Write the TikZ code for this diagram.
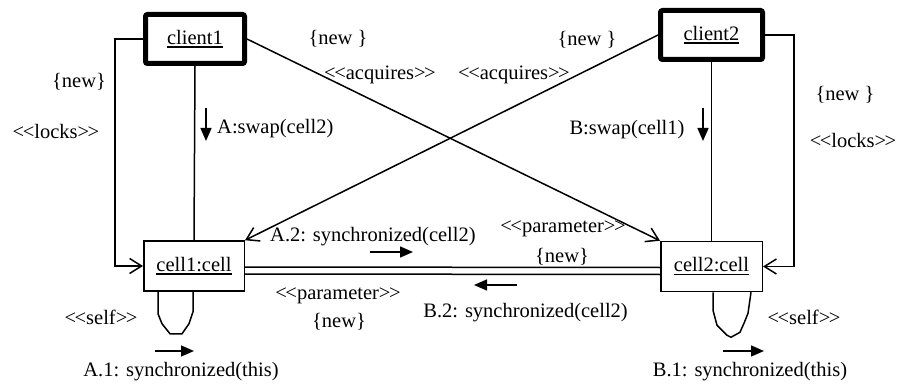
\documentclass[tikz,border=0pt]{standalone}
\usepackage{fontspec}
\setmainfont{Liberation Serif}
\usetikzlibrary{arrows.meta}

% underlined object name
\newcommand\objname[1]{\setbox0\hbox{#1}\rlap{\rule[-3.5pt]{\wd0}{1.8pt}}\box0}
% stereotype brackets, kept as two separate angle signs
\newcommand\stereo[1]{<\kern-1.5pt<#1>\kern-1.5pt>}

\begin{document}
\begin{tikzpicture}[x=1pt,y=-1pt,
  every node/.style={font=\fontsize{20.5}{24}\selectfont, inner sep=0pt},
  client/.style={draw, line width=5pt, rounded corners=2pt, minimum height=49pt},
  cellbox/.style={draw, line width=1.5pt, minimum height=50pt},
  conn/.style={line width=1.5pt},
  link/.style={conn, -{Straight Barb[length=12pt,width=15pt]}},
  msg/.style={line width=1.5pt, -{Triangle[length=13pt,width=11pt]}},
  lbl/.style={}]
\useasboundingbox (0,0) rectangle (900,385);

% objects
\node[client, minimum width=99pt]  (client1) at (195,39)    {\objname{client1}};
\node[client, minimum width=102pt] (client2) at (711.5,35)  {\objname{client2}};
\node[cellbox, minimum width=100.5pt] (cell1) at (194,266)   {\objname{cell1:cell}};
\node[cellbox, minimum width=101.5pt] (cell2) at (711.5,266.5) {\objname{cell2:cell}};

% routing points for the locks links
\coordinate (lk1) at (115,150);
\coordinate (lk2) at (794,150);

% links
\draw[link] (client1.west) -| (lk1) |- (cell1.west);
\draw[link] (client2.east) -| (lk2) |- (cell2.east);
\draw[conn] (client1.south) -- (cell1.north);
\draw[conn] (client2.south) -- (cell2.north);
\draw[link] (client1.east) -- (cell2.north west);
\draw[link] (client2.west) -- (cell1.north east);
\draw[conn] ([yshift=-1pt]cell1.east) -- ([yshift=-1pt]cell2.west);
\draw[conn] ([yshift=-8pt]cell1.east) -- ([yshift=-8pt]cell2.west);

% self links
\draw[conn] ([xshift=-36pt]cell1.south) -- ++(0,22) -- ++(4,10) -- ++(8,10)
  -- ++(12,0) -- ++(7,-10) -- ++(4,-12) -- ([xshift=-1pt]cell1.south);
\draw[conn] ([xshift=1.5pt]cell2.south) -- ++(0,18) -- ++(4,15) -- ++(10,10)
  -- ++(4,2) -- ++(9,-5) -- ++(4,-9) -- ++(4,-10) -- ([xshift=39.5pt]cell2.south);

% message direction arrows
\coordinate (sa1) at (206,108); \coordinate (sa2) at (206,141);
\coordinate (sb1) at (703,108); \coordinate (sb2) at (703,141);
\coordinate (a2s) at (370,252); \coordinate (a2e) at (413,252);
\coordinate (b2s) at (517,285); \coordinate (b2e) at (474,285);
\coordinate (a1s) at (155,351); \coordinate (a1e) at (194,351);
\coordinate (b1s) at (723,351); \coordinate (b1e) at (764,351);
\draw[msg] (sa1) -- (sa2);
\draw[msg] (sb1) -- (sb2);
\draw[msg] (a2s) -- (a2e);
\draw[msg] (b2s) -- (b2e);
\draw[msg] (a1s) -- (a1e);
\draw[msg] (b1s) -- (b1e);

% labels
\node[lbl] (n1) at (79,82)   {\{new\}};
\node[lbl] (k1) at (56,131)  {\stereo{locks}};
\node[lbl, anchor=west] (m1) at (217,129) {A:swap(cell2)};
\node[lbl] (n2) at (338,39)  {\{new \}};
\node[lbl] (q1) at (380,75)  {\stereo{acquires}};
\node[lbl] (q2) at (514,75)  {\stereo{acquires}};
\node[lbl] (n3) at (587,40)  {\{new \}};
\node[lbl] (m2) at (627,130) {B:swap(cell1)};
\node[lbl] (n4) at (845,95)  {\{new \}};
\node[lbl] (k2) at (853,140) {\stereo{locks}};
\node[lbl, anchor=west] (m3) at (270,237) {A.2: synchronized(cell2)};
\node[lbl] (p1) at (563,229) {\stereo{parameter}};
\node[lbl] (n5) at (562,257) {\{new\}};
\node[lbl] (p2) at (338,296) {\stereo{parameter}};
\node[lbl] (n6) at (339,322) {\{new\}};
\node[lbl, anchor=east] (m4) at (628,313) {B.2: synchronized(cell2)};
\node[lbl] (s1) at (101,317) {\stereo{self}};
\node[lbl] (s2) at (804,317) {\stereo{self}};
\node[lbl] (m5) at (181,372) {A.1: synchronized(this)};
\node[lbl] (m6) at (750,372) {B.1: synchronized(this)};
\end{tikzpicture}
\end{document}
